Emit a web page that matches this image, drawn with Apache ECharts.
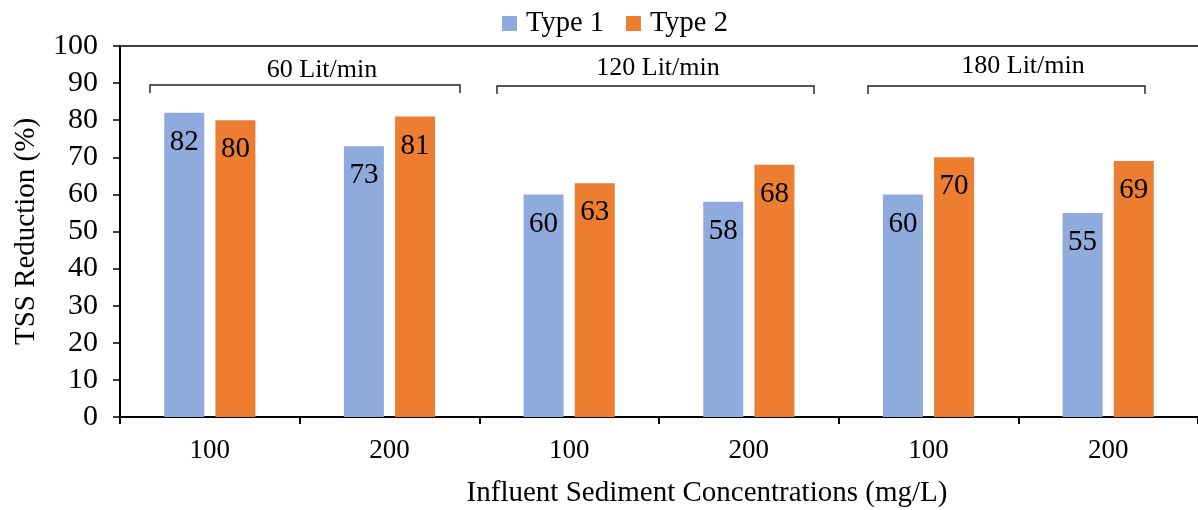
<!DOCTYPE html>
<html>
<head>
<meta charset="utf-8">
<script src="https://cdn.jsdelivr.net/npm/echarts@6/dist/echarts.min.js"></script>
<style>
html,body{margin:0;padding:0;background:#fff;}
#chart{width:1198px;height:510px;}
</style>
</head>
<body>
<div id="chart"></div>
<script>
var categories = ['100', '200', '100', '200', '100', '200'];
var type1 = [82, 73, 60, 58, 60, 55];
var type2 = [80, 81, 63, 68, 70, 69];
var seriesNames = ['Type 1', 'Type 2'];
var yTicks = [0, 100, 10];
var groupLabels = ['60 Lit/min', '120 Lit/min', '180 Lit/min'];

var FONT = '"Liberation Serif", "Times New Roman", serif';
var chart = echarts.init(document.getElementById('chart'));

var brackets = [
  {x1: 150, x2: 460, y: 85, tx: 322, ty: 70},
  {x1: 497, x2: 814, y: 86, tx: 658, ty: 68},
  {x1: 868, x2: 1145, y: 86, tx: 1023, ty: 66}
];
var graphics = [];
brackets.forEach(function (b, i) {
  graphics.push({
    type: 'polyline',
    shape: {points: [[b.x1, b.y + 8], [b.x1, b.y], [b.x2, b.y], [b.x2, b.y + 8]]},
    style: {stroke: '#202020', lineWidth: 1.4, fill: null}
  });
  graphics.push({
    type: 'text', x: b.tx, y: b.ty,
    style: {text: groupLabels[i], font: '26px ' + FONT, fill: '#000', align: 'center', verticalAlign: 'middle'}
  });
});
graphics.push({
  type: 'text', x: 707, y: 493,
  style: {text: 'Influent Sediment Concentrations (mg/L)', font: '29px ' + FONT, fill: '#000', align: 'center', verticalAlign: 'middle'}
});

var labelOpt = {
  show: true, position: 'insideTop', distance: 15,
  fontFamily: FONT, fontSize: 29, color: '#000'
};

chart.setOption({
  animation: false,
  textStyle: {fontFamily: FONT},
  legend: {
    data: seriesNames,
    left: 497, top: 4,
    itemWidth: 15, itemHeight: 15, itemGap: 22,
    icon: 'rect',
    textStyle: {fontFamily: FONT, fontSize: 28.5, color: '#000', padding: [0, 0, 0, 4]}
  },
  grid: {left: 120, top: 46, width: 1082, height: 371, containLabel: false},
  xAxis: [{
    type: 'category', data: categories, position: 'bottom',
    axisLine: {lineStyle: {color: '#000', width: 2}},
    axisTick: {show: true, length: 7, lineStyle: {color: '#000', width: 2}},
    axisLabel: {fontFamily: FONT, fontSize: 27, color: '#000', margin: 20}
  }, {
    type: 'category', data: categories, position: 'top',
    axisLine: {lineStyle: {color: '#000', width: 1.5}},
    axisTick: {show: false}, axisLabel: {show: false}
  }],
  yAxis: {
    type: 'value', min: yTicks[0], max: yTicks[1], interval: yTicks[2],
    name: 'TSS Reduction (%)', nameLocation: 'middle', nameGap: 79,
    nameTextStyle: {fontFamily: FONT, fontSize: 29, color: '#000'},
    axisLine: {show: true, lineStyle: {color: '#000', width: 2}},
    axisTick: {show: true, length: 7, lineStyle: {color: '#000', width: 1.5}},
    axisLabel: {fontFamily: FONT, fontSize: 30, color: '#000', margin: 22},
    splitLine: {show: false}
  },
  series: [{
    name: seriesNames[0], type: 'bar', data: type1,
    barWidth: 40, barGap: '28%',
    itemStyle: {color: '#8FAADC'}, label: labelOpt
  }, {
    name: seriesNames[1], type: 'bar', data: type2,
    barWidth: 40, barGap: '28%',
    itemStyle: {color: '#ED7D31'}, label: labelOpt
  }],
  graphic: graphics
});
</script>
</body>
</html>
